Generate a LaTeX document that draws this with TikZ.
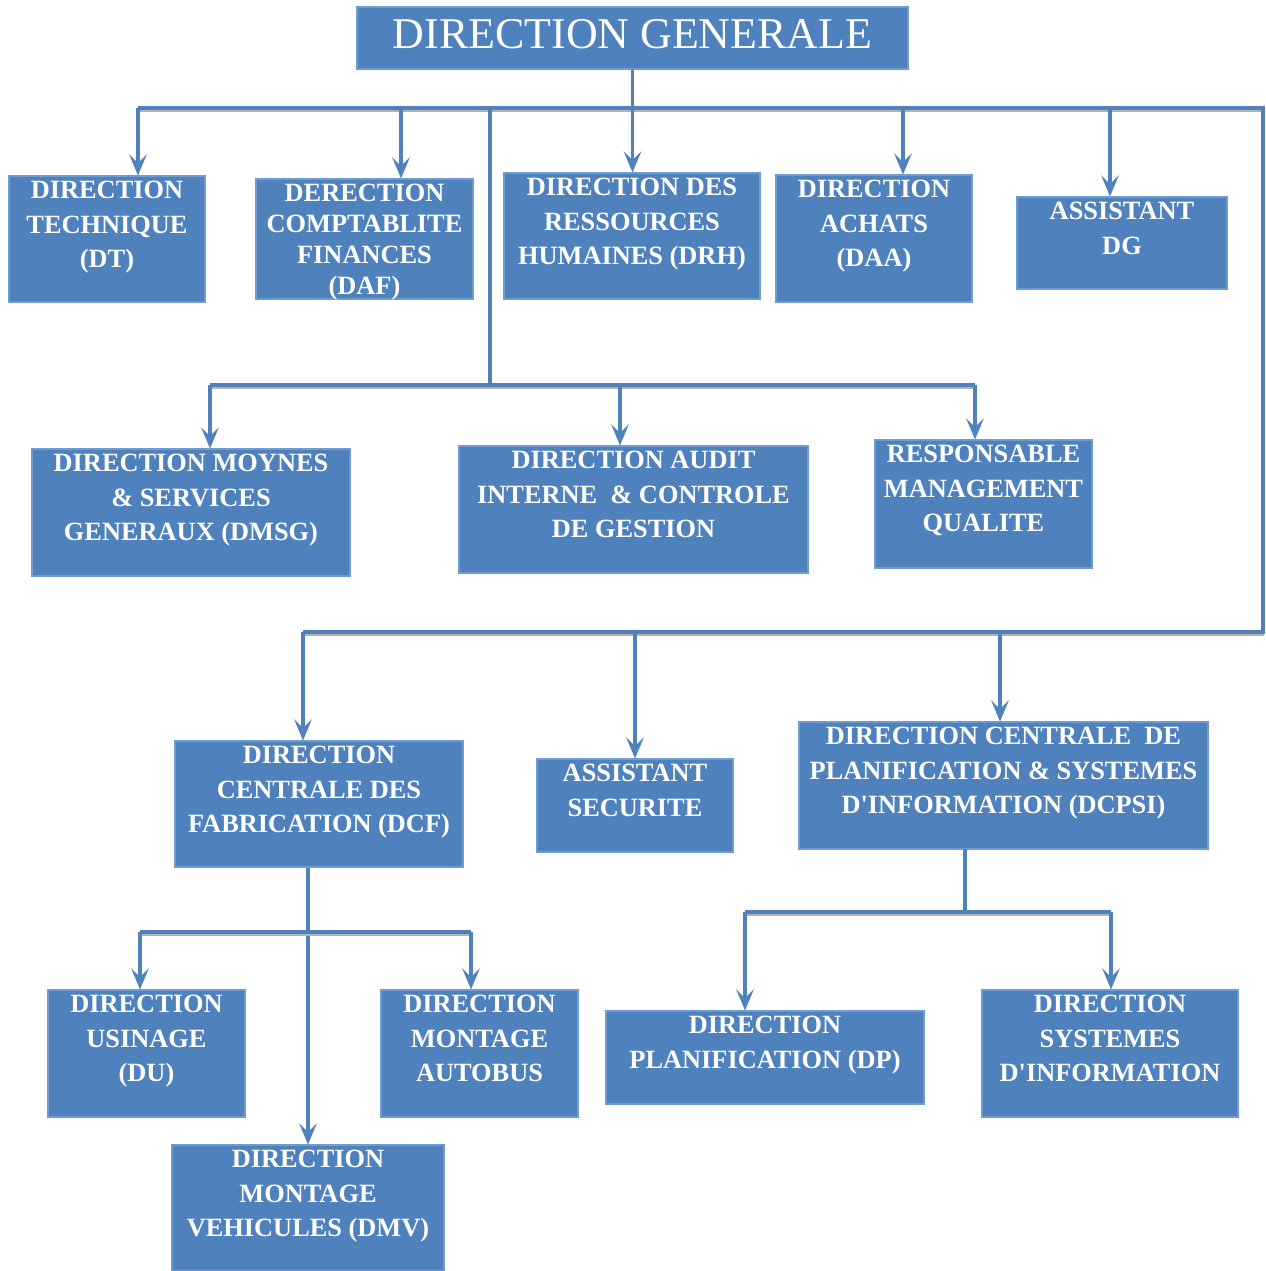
\documentclass[tikz,border=0pt]{standalone}
\usepackage{fontspec}
\setmainfont{Liberation Serif}
\definecolor{orgblue}{RGB}{79,129,189}
\definecolor{orgedge}{RGB}{110,155,210}
\usetikzlibrary{arrows.meta,positioning}

\begin{document}
\begin{tikzpicture}[
        box/.style={rectangle,fill=orgblue,draw=orgedge,line width=0.6pt},
        txt/.style={text=white,align=center,inner sep=0pt,
                    font=\bfseries\fontsize{15}{19.8}\selectfont},
        link/.style={draw=orgblue,line width=2pt},
        arr/.style={link,-{Stealth[length=12pt,width=10pt,inset=5pt]}},
        bus/.style={link,line join=miter,
                    preaction={draw=black!30,line width=1.4pt,transform canvas={yshift=-1.6pt}}}]

        \useasboundingbox (0,0) rectangle (25.3,-25.42);

        \node[box,minimum width=11.02cm,minimum height=1.24cm] (dg) at (12.65,-0.76) {};
        \node[txt,font=\fontsize{25}{30}\selectfont,below=0.26cm of dg.north] (dg-t) {DIRECTION GENERALE};

        \node[box,minimum width=3.92cm,minimum height=2.52cm] (dt)   at (2.14,-4.78)  {};
        \node[box,minimum width=4.34cm,minimum height=2.40cm] (daf)  at (7.29,-4.78)  {};
        \node[box,minimum width=5.12cm,minimum height=2.52cm] (drh)  at (12.64,-4.72) {};
        \node[box,minimum width=3.92cm,minimum height=2.54cm] (daa)  at (17.48,-4.77) {};
        \node[box,minimum width=4.20cm,minimum height=1.84cm] (adg)  at (22.44,-4.86) {};

        \node[box,minimum width=6.36cm,minimum height=2.54cm] (dmsg) at (3.82,-10.25) {};
        \node[box,minimum width=6.98cm,minimum height=2.54cm] (daic) at (12.67,-10.19) {};
        \node[box,minimum width=4.34cm,minimum height=2.56cm] (rmq)  at (19.67,-10.08) {};

        \node[box,minimum width=5.76cm,minimum height=2.52cm] (dcf)   at (6.38,-16.08)  {};
        \node[box,minimum width=3.92cm,minimum height=1.86cm] (asec)  at (12.70,-16.11) {};
        \node[box,minimum width=8.18cm,minimum height=2.54cm] (dcpsi) at (20.07,-15.71) {};

        \node[box,minimum width=3.94cm,minimum height=2.54cm] (du)  at (2.93,-21.07)  {};
        \node[box,minimum width=3.94cm,minimum height=2.54cm] (dma) at (9.59,-21.07)  {};
        \node[box,minimum width=5.44cm,minimum height=2.52cm] (dmv) at (6.16,-24.16)  {};
        \node[box,minimum width=6.36cm,minimum height=1.86cm] (dp)  at (15.30,-21.15) {};
        \node[box,minimum width=5.12cm,minimum height=2.54cm] (dsi) at (22.20,-21.07) {};

        % libelles, cales en haut des cadres
        \node[txt,below=0.1cm of dt.north]    (dt-t)    {DIRECTION\\TECHNIQUE\\(DT)};
        \node[txt,font=\bfseries\fontsize{15}{17.6}\selectfont,below=0.1cm of daf.north]
                                              (daf-t)   {DERECTION\\COMPTABLITE\\FINANCES\\(DAF)};
        \node[txt,below=0.1cm of drh.north]   (drh-t)   {DIRECTION DES\\RESSOURCES\\HUMAINES (DRH)};
        \node[txt,below=0.1cm of daa.north]   (daa-t)   {DIRECTION\\ACHATS\\(DAA)};
        \node[txt,below=0.1cm of adg.north]   (adg-t)   {ASSISTANT\\DG};
        \node[txt,below=0.1cm of dmsg.north]  (dmsg-t)  {DIRECTION MOYNES\\\& SERVICES\\GENERAUX (DMSG)};
        \node[txt,below=0.1cm of daic.north]  (daic-t)  {DIRECTION AUDIT\\INTERNE~~\& CONTROLE\\DE GESTION};
        \node[txt,below=0.1cm of rmq.north]   (rmq-t)   {RESPONSABLE\\MANAGEMENT\\QUALITE};
        \node[txt,below=0.1cm of dcf.north]   (dcf-t)   {DIRECTION\\CENTRALE DES\\FABRICATION (DCF)};
        \node[txt,below=0.1cm of asec.north]  (asec-t)  {ASSISTANT\\SECURITE};
        \node[txt,below=0.1cm of dcpsi.north] (dcpsi-t) {DIRECTION CENTRALE~~DE\\PLANIFICATION \& SYSTEMES\\D\textquotesingle INFORMATION (DCPSI)};
        \node[txt,below=0.1cm of du.north]    (du-t)    {DIRECTION\\USINAGE\\(DU)};
        \node[txt,below=0.1cm of dma.north]   (dma-t)   {DIRECTION\\MONTAGE\\AUTOBUS};
        \node[txt,below=0.1cm of dmv.north]   (dmv-t)   {DIRECTION\\MONTAGE\\VEHICULES (DMV)};
        \node[txt,below=0.1cm of dp.north]    (dp-t)    {DIRECTION\\PLANIFICATION (DP)};
        \node[txt,below=0.1cm of dsi.north]   (dsi-t)   {DIRECTION\\SYSTEMES\\D\textquotesingle INFORMATION};

        % bus principal : haut, cote droit, bas
        \coordinate (b-top) at (2.76,-2.16);
        \coordinate (b-tr)  at (25.26,-2.16);
        \coordinate (b-br)  at (25.26,-12.64);
        \coordinate (b-bot) at (6.06,-12.64);
        \draw[bus] (b-top) -- (b-tr) -- (b-br) -- (b-bot);

        \draw[arr] (dg.south) -- (dg.south |- drh.north);
        \foreach \n/\x in {dt/2.76,daf/8.02,daa/18.06,adg/22.2}{
            \coordinate (j-\n) at (\x,-2.16);
            \draw[arr] (j-\n) -- (j-\n |- \n.north);
        }

        % second niveau
        \coordinate (j-mid) at (9.8,-2.16);
        \coordinate (m-mid) at (9.8,-7.70);
        \coordinate (m-l)   at (4.2,-7.70);
        \coordinate (m-r)   at (19.5,-7.70);
        \draw[link] (j-mid) -- (m-mid);
        \draw[bus] (m-l) -- (m-r);
        \foreach \n/\x in {dmsg/4.2,daic/12.4,rmq/19.5}{
            \coordinate (j-\n) at (\x,-7.70);
            \draw[arr] (j-\n) -- (j-\n |- \n.north);
        }

        % troisieme niveau
        \foreach \n/\x in {dcf/6.06,asec/12.7,dcpsi/20.0}{
            \coordinate (j-\n) at (\x,-12.64);
            \draw[arr] (j-\n) -- (j-\n |- \n.north);
        }

        % sous la DCF
        \draw[arr] (dmv.north |- dcf.south) -- (dmv.north);
        \coordinate (f-l) at (2.8,-18.64);
        \coordinate (f-r) at (9.42,-18.64);
        \draw[bus] (f-l) -- (f-r);
        \draw[arr] (f-l) -- (f-l |- du.north);
        \draw[arr] (f-r) -- (f-r |- dma.north);

        % sous la DCPSI
        \coordinate (p-top) at (19.3,-16.98);
        \coordinate (p-mid) at (19.3,-18.24);
        \coordinate (p-l)   at (14.9,-18.24);
        \coordinate (p-r)   at (22.22,-18.24);
        \draw[link] (p-top) -- (p-mid);
        \draw[bus] (p-l) -- (p-r);
        \draw[arr] (p-l) -- (p-l |- dp.north);
        \draw[arr] (p-r) -- (p-r |- dsi.north);

    \end{tikzpicture}
\end{document}
